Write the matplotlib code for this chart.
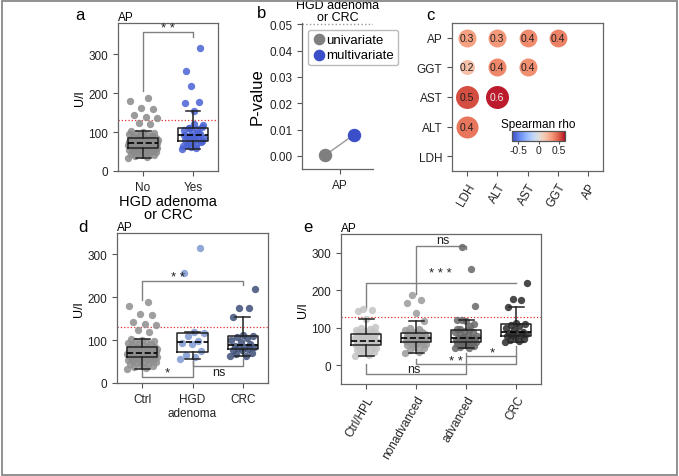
import numpy as np
import matplotlib
matplotlib.use('Agg')
import matplotlib.pyplot as plt
from matplotlib.patches import Rectangle
from matplotlib import cm, colors as mcolors

plt.rcParams['font.family'] = ['Liberation Sans', 'DejaVu Sans']
plt.rcParams['axes.edgecolor'] = '#666666'
plt.rcParams['axes.linewidth'] = 0.9
plt.rcParams['xtick.color'] = '#555555'
plt.rcParams['ytick.color'] = '#555555'
plt.rcParams['xtick.labelcolor'] = '#222222'
plt.rcParams['ytick.labelcolor'] = '#222222'
plt.rcParams['xtick.labelsize'] = 8.5
plt.rcParams['ytick.labelsize'] = 8.5

# AP values (U/l) per group
ctrl = [33, 35, 38, 40, 42, 44, 45, 47, 48, 50, 51, 52, 53, 54, 55, 56, 57, 58, 58, 59,
        60, 60, 61, 62, 62, 63, 64, 64, 65, 65, 66, 66, 67, 67, 68, 68, 69, 69, 70, 70,
        71, 71, 72, 72, 73, 73, 74, 74, 75, 75, 76, 76, 77, 78, 78, 79, 80, 80, 81, 82,
        83, 83, 84, 85, 86, 88, 90, 92, 94, 95, 97, 98, 100, 102, 120, 123, 135, 138,
        143, 159, 162, 179, 188]
hgd = [56, 60, 66, 75, 90, 93, 97, 110, 117, 120, 257, 316]
crc = [62, 64, 67, 70, 76, 78, 80, 82, 84, 85, 87, 90, 95, 100, 105, 108, 110, 112,
       155, 174, 176, 219]
ctrl_hpl = [25, 28, 32, 35, 38, 40, 42, 45, 47, 48, 50, 51, 52, 53, 54, 55, 56, 57, 58, 59,
            60, 61, 62, 63, 64, 65, 65, 66, 67, 68, 69, 70, 72, 73, 74, 75, 76, 78, 80, 82,
            83, 84, 85, 86, 88, 90, 92, 95, 98, 100, 103, 123, 145, 148, 150]
nonadvanced = [32, 35, 40, 45, 50, 53, 55, 57, 58, 60, 62, 63, 64, 65, 66, 67, 68, 69, 70, 71,
               72, 72, 73, 74, 75, 76, 78, 80, 81, 83, 85, 86, 88, 90, 93, 96, 100, 119,
               140, 166, 175, 188]
advanced_other = [45, 47, 50, 52, 55, 57, 58, 60, 62, 63, 64, 65, 66, 67, 68, 69, 70, 71, 72,
                  73, 75, 78, 80, 84, 88, 92, 98, 105, 122, 157]
advanced = advanced_other + hgd
uln = 130  # upper normal limit

# panel b
pval_tests = ['univariate', 'multivariate']
pval_ap = [0.0003, 0.008]

# panel c : spearman rho between enzymes
enzymes = ['LDH', 'ALT', 'AST', 'GGT', 'AP']
rho_pairs = [('AP', 'LDH', 0.30), ('AP', 'ALT', 0.33), ('AP', 'AST', 0.37), ('AP', 'GGT', 0.40),
             ('GGT', 'LDH', 0.18), ('GGT', 'ALT', 0.38), ('GGT', 'AST', 0.36),
             ('AST', 'LDH', 0.53), ('AST', 'ALT', 0.62),
             ('ALT', 'LDH', 0.43)]
neglog_p = [4.0, 4.0, 3.9, 3.9, 2.5, 4.0, 4.0, 6.5, 6.5, 6.0]

W, H = 679, 477
fig = plt.figure(figsize=(W / 100, H / 100), dpi=100)


def rect(l, t, r, b):
    return [l / W, 1 - b / H, (r - l) / W, (b - t) / H]


def strip_box(ax, groups, cols, spreads):
    for i, (vals, c, sp) in enumerate(zip(groups, cols, spreads)):
        n = len(vals)
        jit = ((np.arange(n) * 0.618034) % 1 - 0.5) * 2 * sp
        ax.scatter(i + jit, vals, s=28, color=c, alpha=0.85, lw=0, zorder=2)
    ax.boxplot(groups, positions=range(len(groups)), widths=0.6, showfliers=False,
               medianprops=dict(color='k', ls='--', lw=1.2),
               boxprops=dict(color='#222222', lw=1.1),
               whiskerprops=dict(color='#222222', lw=1.1),
               capprops=dict(color='#222222', lw=1.1), zorder=3)
    ax.axhline(uln, color='#e03030', ls=':', lw=0.9, zorder=1)
    ax.set_xlim(-0.5, len(groups) - 0.5)


def bracket(ax, x1, x2, y, y1, y2, txt, tx, ty, fs=9):
    ax.plot([x1, x1, x2, x2], [y1, y, y, y2], color='#808080', lw=1, zorder=1)
    ax.text(tx, ty, txt, ha='center', va='center', fontsize=fs, color='#222222')


# ---- a
ax = fig.add_axes(rect(118, 24, 218, 172))
strip_box(ax, [ctrl, hgd + crc], ['#8a8a8a', '#4a62d4'], [0.3, 0.22])
ax.set_ylim(0, 380)
ax.set_yticks([0, 100, 200, 300])
ax.set_xticks([0, 1], ['No', 'Yes'])
ax.set_ylabel('U/l', fontsize=9, labelpad=2)
ax.set_xlabel('HGD adenoma\nor CRC', fontsize=10.5, labelpad=1, linespacing=0.9)
ax.set_title('AP', loc='left', fontsize=8.5, pad=2)
bracket(ax, 0, 1, 358, 205, 345, '* *', 0.5, 368, fs=9.5)
fig.text(75 / W, 1 - 15 / H, 'a', fontsize=12, va='center')

# ---- b
ax = fig.add_axes(rect(302, 24, 373, 170))
xb = [-0.2, 0.2]
ax.plot(xb, pval_ap, color='#999999', lw=1, zorder=1)
ax.scatter(xb[0], pval_ap[0], s=75, color='#7f7f7f', zorder=2, label=pval_tests[0])
ax.scatter(xb[1], pval_ap[1], s=75, color='#3a4fc8', zorder=2, label=pval_tests[1])
ax.axhline(0.05, color='#999999', ls=':', lw=1)
ax.set_xlim(-0.53, 0.47)
ax.set_ylim(-0.005, 0.0505)
ax.set_xticks([0], ['AP'])
ax.set_yticks([0, 0.01, 0.02, 0.03, 0.04, 0.05])
ax.spines['top'].set_visible(False)
ax.spines['right'].set_visible(False)
ax.set_ylabel('P-value', fontsize=12, labelpad=3)
ax.set_title('HGD adenoma\nor CRC', fontsize=9, pad=2, linespacing=0.95)
ax.legend(loc='upper left', bbox_to_anchor=(0.085, 0.955), borderaxespad=0, fontsize=9.5,
          handletextpad=0.1, handlelength=1.0, borderpad=0.3, labelspacing=0.25,
          markerscale=0.85, framealpha=1, edgecolor='#bbbbbb')
fig.text(257 / W, 1 - 14 / H, 'b', fontsize=12, va='center')

# ---- c
ax = fig.add_axes(rect(452, 24, 603, 172))
norm = mcolors.Normalize(-0.65, 0.65)
cmap = plt.get_cmap('coolwarm')
for (r, c, v), p in zip(rho_pairs, neglog_p):
    xi, yi = enzymes.index(c), enzymes.index(r)
    d_pt = (10 + 2 * p) * 0.72
    ax.scatter(xi, yi, s=d_pt ** 2, color=cmap(norm(v)), lw=0)
    ax.text(xi, yi, f'{v:.1f}', ha='center', va='center', fontsize=7.5,
            color='#f0f0f0' if v > 0.58 else '#222222')
ax.set_xlim(-0.5, 4.5)
ax.set_ylim(-0.5, 4.5)
ax.set_xticks(range(5))
ax.set_xticklabels(enzymes, rotation=60, ha='right', rotation_mode='anchor', fontsize=8.5)
ax.set_yticks(range(5), enzymes, fontsize=8.5)
fig.text(426 / W, 1 - 16 / H, 'c', fontsize=12, va='center')
cax = fig.add_axes(rect(512, 132, 565, 142))
cb = fig.colorbar(cm.ScalarMappable(norm=norm, cmap=cmap), cax=cax, orientation='horizontal')
cb.set_ticks([-0.5, 0, 0.5], labels=['-0.5', '0', '0.5'])
cb.ax.tick_params(labelsize=7.5, length=2, pad=1)
cb.outline.set_edgecolor('#555555')
cax.set_title('Spearman rho', fontsize=8.5, pad=3)

# ---- d
ax = fig.add_axes(rect(117, 234, 268, 384))
strip_box(ax, [ctrl, hgd, crc], ['#8e8e8e', '#7d98d0', '#3e5078'], [0.3, 0.25, 0.25])
ax.set_ylim(0, 350)
ax.set_yticks([0, 100, 200, 300])
ax.set_xticks([0, 1, 2], ['Ctrl', 'HGD\nadenoma', 'CRC'])
ax.set_ylabel('U/l', fontsize=9, labelpad=2)
ax.set_title('AP', loc='left', fontsize=8.5, pad=2)
bracket(ax, 0, 2, 239, 193, 228, '* *', 0.72, 247, fs=9.5)
bracket(ax, 0, 1, 13, 33, 52, '*', 0.5, 24, fs=9.5)
bracket(ax, 1, 2, 39, 55, 55, 'ns', 1.52, 26, fs=9)
fig.text(78 / W, 1 - 228 / H, 'd', fontsize=12, va='center')

# ---- e
ax = fig.add_axes(rect(341, 235, 541, 385))
strip_box(ax, [ctrl_hpl, nonadvanced, advanced, crc],
          ['#c4c4c4', '#9a9a9a', '#686868', '#2a2a2a'], [0.22, 0.22, 0.22, 0.22])
ax.set_ylim(-50, 350)
ax.set_yticks([0, 100, 200, 300])
ax.set_xticks(range(4))
ax.set_xticklabels(['Ctrl/HPL', 'nonadvanced', 'advanced', 'CRC'], rotation=60,
                   ha='right', rotation_mode='anchor')
ax.set_ylabel('U/l', fontsize=9, labelpad=2)
ax.set_title('AP', loc='left', fontsize=8.5, pad=2)
bracket(ax, 1, 2, 318, 190, 310, 'ns', 1.54, 333, fs=9)
bracket(ax, 0, 3, 220, 152, 220, '* * *', 1.48, 245, fs=9.5)
bracket(ax, 2, 3, 25, 34, 52, '*', 2.52, 34, fs=9.5)
bracket(ax, 1, 3, 3, 16, 25, '* *', 1.8, 12, fs=9.5)
bracket(ax, 0, 2, -24, 3, 22, 'ns', 0.96, -9, fs=9)
fig.text(303 / W, 1 - 228 / H, 'e', fontsize=12, va='center')

fig.add_artist(Rectangle((1.5 / W, 1.5 / H), (W - 4) / W, (H - 3) / H,
                         transform=fig.transFigure, fill=False, ec='#888888', lw=1.3))

fig.savefig('out.png', dpi=100)
